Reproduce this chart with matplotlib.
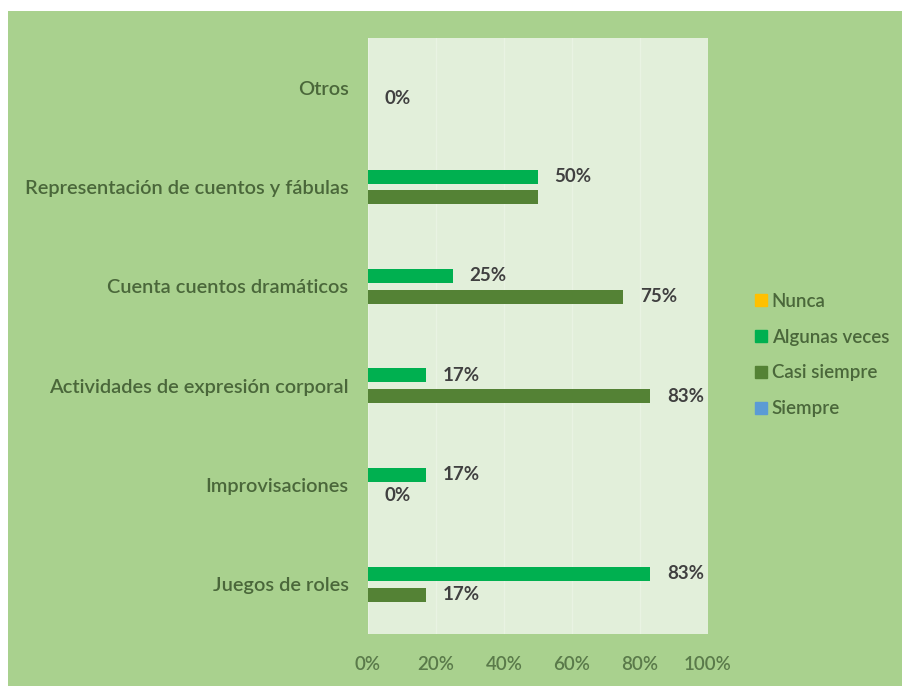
import matplotlib
matplotlib.use("Agg")
import matplotlib.pyplot as plt
import numpy as np
from matplotlib.patches import Rectangle
from matplotlib.lines import Line2D

categories = ["Juegos de roles", "Improvisaciones", "Actividades de expresión corporal",
              "Cuenta cuentos dramáticos", "Representación de cuentos y fábulas", "Otros"]
algunas_veces = [83, 17, 17, 25, 50, None]
casi_siempre = [17, 0, 83, 75, 50, 0]
casi_labels = ["17%", "0%", "83%", "75%", "", "0%"]
series_names = ["Nunca", "Algunas veces", "Casi siempre", "Siempre"]
series_colors = ["#ffc000", "#00b050", "#548235", "#5b9bd5"]
xticks = [0, 20, 40, 60, 80, 100]

plt.rcParams['font.family'] = ['Lato', 'DejaVu Sans']

W, H = 903, 686
fig = plt.figure(figsize=(W / 100, H / 100), dpi=100)
fig.patch.set_facecolor("white")
fig.add_artist(Rectangle((8 / W, 0), 1, 1 - 11 / H, transform=fig.transFigure,
                         facecolor="#a9d18e", edgecolor="none", zorder=-10))

left, right, top, bottom = 368, 708, 38, 634
ax = fig.add_axes([left / W, 1 - bottom / H, (right - left) / W, (bottom - top) / H])
ax.set_facecolor("#e2efda")
for s in ax.spines.values():
    s.set_visible(False)

y = np.arange(len(categories))
h = 0.14
off = 0.105
txtc = "#404040"
fs = 13.5
for i, v in enumerate(algunas_veces):
    if v is None:
        continue
    ax.barh(y[i] + off, v, height=h, color=series_colors[1], zorder=3)
    ax.annotate(f"{v}%", (v, y[i] + off), xytext=(12, 0), textcoords="offset points",
                va="center", ha="left", fontsize=fs, fontweight="bold", color=txtc)
for i, v in enumerate(casi_siempre):
    ax.barh(y[i] - off, v, height=h, color=series_colors[2], zorder=3)
    ax.annotate(casi_labels[i], (v, y[i] - off), xytext=(12, 0), textcoords="offset points",
                va="center", ha="left", fontsize=fs, fontweight="bold", color=txtc)

ax.set_xlim(0, 100)
ax.set_ylim(-0.5, len(categories) - 0.5)
ax.set_yticks(y)
ax.set_yticklabels(categories, fontsize=14.4, color="#4a673a", fontweight="semibold")
ax.set_xticks(xticks)
ax.set_xticklabels([f"{t}%" for t in xticks], fontsize=fs, color="#5a7a4a",
                   fontweight="semibold")
ax.tick_params(axis="both", length=0)
ax.tick_params(axis="x", pad=16)
ax.tick_params(axis="y", pad=14)
ax.grid(axis="x", color="#e9f3e3", linewidth=1, zorder=0)

handles = [Line2D([], [], marker="s", linestyle="none", markersize=8,
                  markerfacecolor=c, markeredgecolor=c) for c in series_colors]
leg = fig.legend(handles, series_names, loc="upper left",
                 bbox_to_anchor=(735 / W, 1 - 276 / H), frameon=False,
                 prop={"size": fs, "weight": "semibold"}, handletextpad=0.05,
                 labelspacing=1.0, handlelength=1.0)
for t in leg.get_texts():
    t.set_color("#4a673a")

fig.savefig("out.png", dpi=100)
